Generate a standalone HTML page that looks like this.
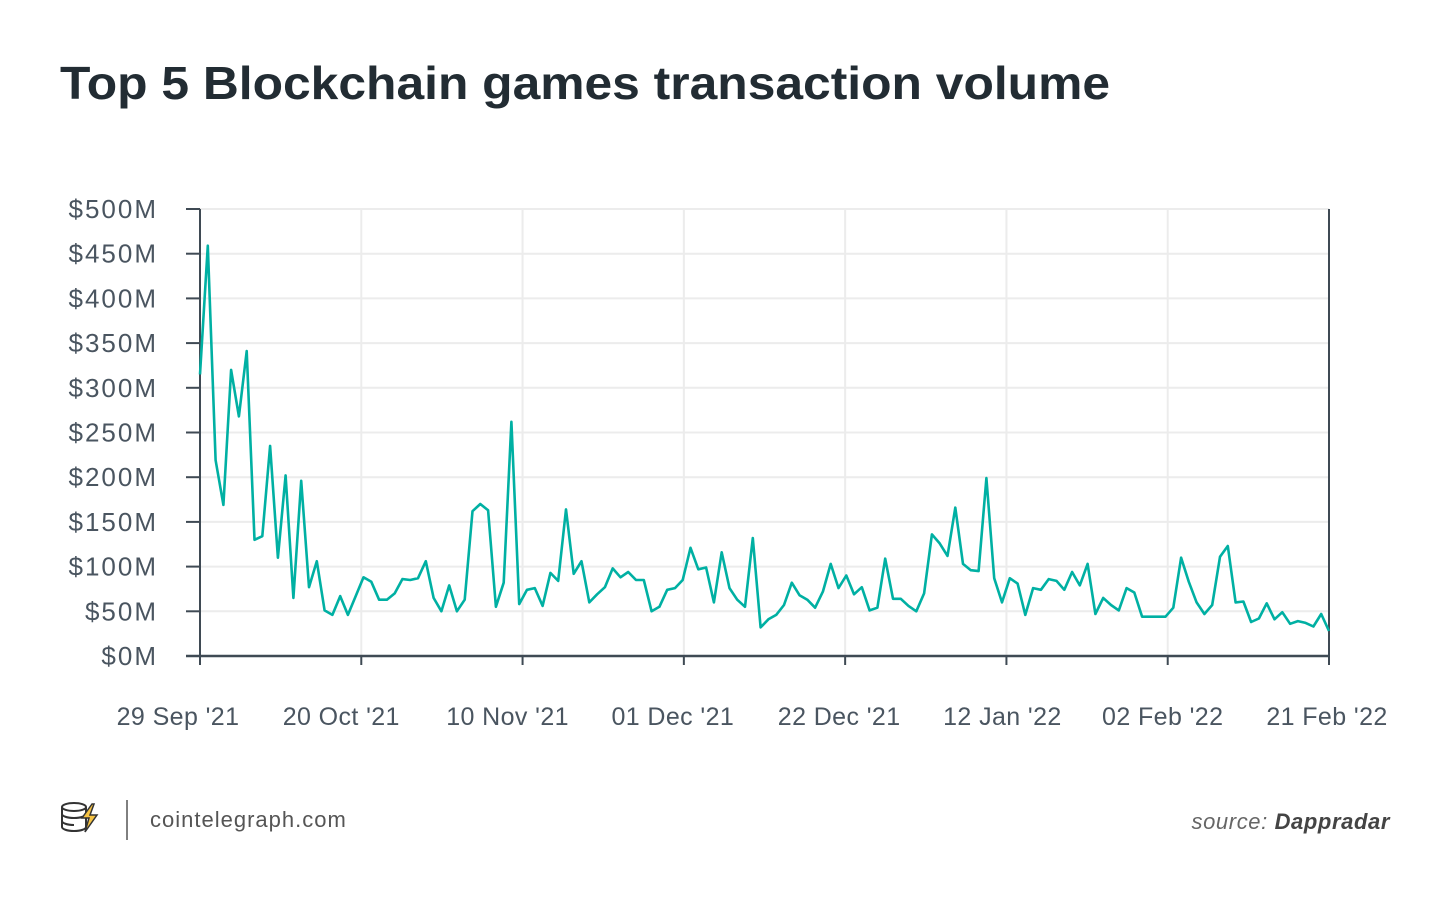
<!DOCTYPE html>
<html><head><meta charset="utf-8"><style>
body{margin:0;background:#fff;width:1450px;height:900px;overflow:hidden;font-family:"Liberation Sans",sans-serif}
</style></head><body>
<svg width="1450" height="900">
<text x="60" y="99" font-size="46" font-weight="bold" fill="#222c33" textLength="1050" lengthAdjust="spacingAndGlyphs">Top 5 Blockchain games transaction volume</text>
<g id="grid"></g>
<g id="axes"></g>
<path id="line" fill="none" stroke="#00b0a3" stroke-width="2.6" stroke-linejoin="round"/>
<g>
<g fill="none" stroke="#333" stroke-width="2">
<ellipse cx="74" cy="807" rx="12" ry="4"/><path d="M62 807v20c0 2 5 4 12 4s12-2 12-4v-20M62 814c0 2 5 4 12 4s12-2 12-4M62 821c0 2 5 4 12 4"/>
<path d="M92 804l-10 14h7l-4 14 12-17h-7l4-11z" fill="#f6c343" stroke="#333" stroke-width="1.5"/>
</g>
<line x1="127" y1="800" x2="127" y2="840" stroke="#555" stroke-width="1.5"/>
<text x="150" y="827" font-size="22" fill="#555" letter-spacing="1">cointelegraph.com</text>
<text x="1390" y="829" font-size="22" fill="#666" text-anchor="end" font-style="italic" letter-spacing="0.6">source: <tspan font-weight="bold" fill="#444">Dappradar</tspan></text>
</g>
</svg>
<script>
const values=[315,459,219,169,320,268,341,130,134,235,110,202,65,196,77,106,51,46,67,46,67,88,83,63,63,70,86,85,87,106,65,50,79,50,63,162,170,163,55,82,262,58,74,76,56,93,84,164,92,106,60,69,77,98,88,94,85,85,50,55,74,76,85,121,97,99,60,116,76,63,55,132,32,41,46,57,82,68,63,54,72,103,76,90,69,77,51,54,109,64,64,56,50,70,136,126,112,166,103,96,95,199,87,60,87,81,46,76,74,86,84,74,94,79,103,47,65,57,51,76,71,44,44,44,44,54,110,83,60,47,57,111,123,60,61,38,42,59,41,49,36,39,37,33,47,28];
const yTicks=[0,50,100,150,200,250,300,350,400,450,500];
const xTickLabels=["29 Sep '21","20 Oct '21","10 Nov '21","01 Dec '21","22 Dec '21","12 Jan '22","02 Feb '22","21 Feb '22"];
const xTickDays=[0,21,42,63,84,105,126,147];
const X0=200,X1=1329,Y0=656,Y1=209;
const xs=d=>X0+d*(X1-X0)/(values.length-1);
const xt=d=>X0+d*(X1-X0)/147;
const ys=v=>Y0-v*(Y0-Y1)/500;
const labelShift=[-22,-20,-15,-11,-6,-4,-5,-2];
const NS="http://www.w3.org/2000/svg";
const grid=document.getElementById('grid'),axes=document.getElementById('axes');
function mk(tag,attrs,parent){const e=document.createElementNS(NS,tag);for(const k in attrs)e.setAttribute(k,attrs[k]);parent.appendChild(e);return e;}
yTicks.forEach(v=>{
  const g=mk('line',{x1:X0,x2:X1,y1:ys(v),y2:ys(v),stroke:'#ececec','stroke-width':2},grid);
  
  
  const t=mk('line',{x1:186,x2:X0,y1:ys(v),y2:ys(v),stroke:'#3f4a54','stroke-width':2},axes);
  
  
  const l=mk('text',{x:158,y:ys(v)+9,'font-size':26,fill:'#4a5560','text-anchor':'end','letter-spacing':2},axes);
  l.textContent='$'+v+'M';
  
  
});
xTickDays.forEach((d,i)=>{
  const x=xt(d);
  if(i>0&&i<xTickDays.length-1){const g=mk('line',{x1:x,x2:x,y1:Y1,y2:Y0,stroke:'#ececec','stroke-width':2},grid);
  
  }
  const t=mk('line',{x1:x,x2:x,y1:Y0,y2:Y0+9,stroke:'#3f4a54','stroke-width':2},axes);
  
  
  const l=mk('text',{x:x+labelShift[i],y:725,'font-size':25,fill:'#4a5560','text-anchor':'middle','letter-spacing':0.4},axes);
  l.textContent=xTickLabels[i];
  
  
});
const a1=mk('line',{x1:X0,x2:X0,y1:Y1,y2:Y0,stroke:'#3f4a54','stroke-width':2},axes);


const a2=mk('line',{x1:X1,x2:X1,y1:Y1,y2:Y0,stroke:'#3f4a54','stroke-width':2},axes);


const a3=mk('line',{x1:186,x2:X1,y1:Y0,y2:Y0,stroke:'#3f4a54','stroke-width':2.5},axes);


document.getElementById('line').setAttribute('d',values.map((v,i)=>(i?'L':'M')+xs(i).toFixed(1)+' '+ys(v).toFixed(1)).join(''));
</script>
</body></html>
